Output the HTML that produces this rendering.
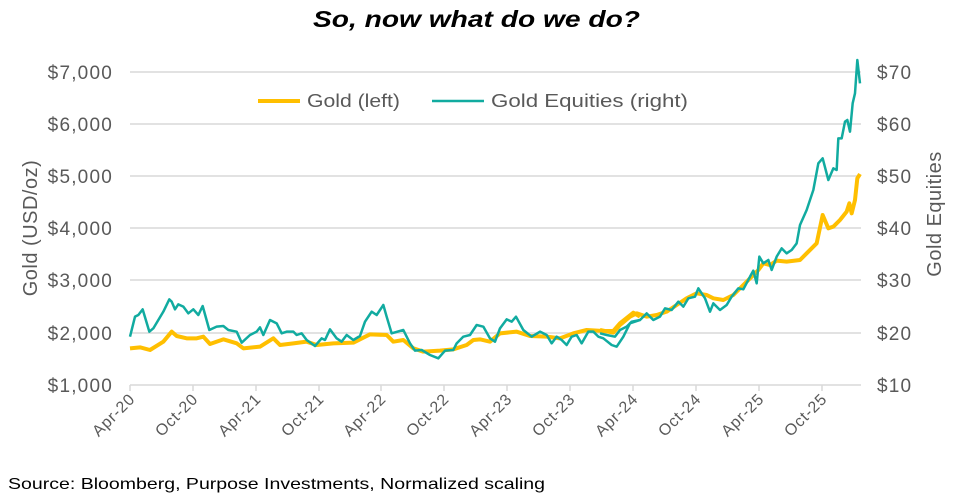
<!DOCTYPE html>
<html><head><meta charset="utf-8"><style>
body{margin:0;background:#fff;}
svg{display:block;font-family:"Liberation Sans",sans-serif;}
</style></head><body>
<svg width="953" height="500" viewBox="0 0 953 500">
<text x="313" y="27" textLength="327" lengthAdjust="spacingAndGlyphs" font-size="23" font-weight="bold" font-style="italic" fill="#000">So, now what do we do?</text>
<g stroke="#d9d9d9" stroke-width="1.5">
<line x1="130" x2="861" y1="72" y2="72"/><line x1="130" x2="861" y1="124" y2="124"/>
<line x1="130" x2="861" y1="176" y2="176"/><line x1="130" x2="861" y1="228" y2="228"/>
<line x1="130" x2="861" y1="280" y2="280"/><line x1="130" x2="861" y1="333" y2="333"/>
<line x1="130" x2="861" y1="385" y2="385"/>
<line x1="130" x2="130" y1="385" y2="391"/><line x1="193" x2="193" y1="385" y2="391"/>
<line x1="256" x2="256" y1="385" y2="391"/><line x1="319" x2="319" y1="385" y2="391"/>
<line x1="381" x2="381" y1="385" y2="391"/><line x1="444" x2="444" y1="385" y2="391"/>
<line x1="507" x2="507" y1="385" y2="391"/><line x1="570" x2="570" y1="385" y2="391"/>
<line x1="633" x2="633" y1="385" y2="391"/><line x1="696" x2="696" y1="385" y2="391"/>
<line x1="759" x2="759" y1="385" y2="391"/><line x1="822" x2="822" y1="385" y2="391"/>
</g>
<g font-size="19" letter-spacing="1.2" fill="#595959" text-anchor="end">
<text x="113" y="79">$7,000</text><text x="113" y="131">$6,000</text><text x="113" y="183">$5,000</text>
<text x="113" y="235">$4,000</text><text x="113" y="287">$3,000</text><text x="113" y="340">$2,000</text><text x="113" y="392">$1,000</text>
</g>
<g font-size="19" letter-spacing="1.2" fill="#595959">
<text x="877" y="79">$70</text><text x="877" y="131">$60</text><text x="877" y="183">$50</text>
<text x="877" y="235">$40</text><text x="877" y="287">$30</text><text x="877" y="340">$20</text><text x="877" y="392">$10</text>
</g>
<text transform="translate(37,228) rotate(-90)" text-anchor="middle" font-size="20" letter-spacing="0.5" fill="#595959">Gold (USD/oz)</text>
<text transform="translate(941,214) rotate(-90)" text-anchor="middle" font-size="20" letter-spacing="0.5" fill="#595959">Gold Equities</text>
<g font-size="16" letter-spacing="0.8" fill="#595959" text-anchor="end">
<text transform="translate(136,400) rotate(-45)">Apr-20</text><text transform="translate(199,400) rotate(-45)">Oct-20</text>
<text transform="translate(262,400) rotate(-45)">Apr-21</text><text transform="translate(325,400) rotate(-45)">Oct-21</text>
<text transform="translate(387,400) rotate(-45)">Apr-22</text><text transform="translate(450,400) rotate(-45)">Oct-22</text>
<text transform="translate(513,400) rotate(-45)">Apr-23</text><text transform="translate(576,400) rotate(-45)">Oct-23</text>
<text transform="translate(639,400) rotate(-45)">Apr-24</text><text transform="translate(702,400) rotate(-45)">Oct-24</text>
<text transform="translate(765,400) rotate(-45)">Apr-25</text><text transform="translate(828,400) rotate(-45)">Oct-25</text>
</g>
<line x1="258" x2="300" y1="101" y2="101" stroke="#ffbf00" stroke-width="4"/>
<text x="307" y="107" textLength="93" lengthAdjust="spacingAndGlyphs" font-size="18" fill="#595959">Gold (left)</text>
<line x1="432" x2="484" y1="101" y2="101" stroke="#11aba0" stroke-width="2.5"/>
<text x="491" y="107" textLength="197" lengthAdjust="spacingAndGlyphs" font-size="18" fill="#595959">Gold Equities (right)</text>
<g fill="none" stroke-linejoin="round">
<g transform="translate(120,270) scale(0.33333)">
<polyline vector-effect="non-scaling-stroke" stroke="#ffbf00" stroke-width="4" points="30,235 60,232 90,240 130,215 155,185 170,198 200,205 230,205 250,200 270,222 310,208 350,220 370,235 420,230 460,205 480,225 520,220 560,215 590,225 640,220 700,218 750,193 800,195 820,215 850,210 880,235 910,245 960,242 1000,238 1040,225 1060,210 1080,208 1110,215 1140,190 1190,185 1230,198 1280,200 1320,205 1360,190 1400,180 1450,183 1480,183 1500,160 1540,128 1560,140"/>
</g>
<g transform="translate(600,50) scale(0.33333)">
<polyline vector-effect="non-scaling-stroke" stroke="#ffbf00" stroke-width="4" points="0,840 40,848 60,825 90,800 110,790 140,800 170,795 200,785 230,765 260,745 290,730 320,735 340,745 370,750 400,735 430,705 455,680 475,660 490,640 510,645 530,632 560,635 600,630 620,610 650,580 668,495 685,535 700,530 720,510 740,485 748,460 755,490 765,450 772,385 780,372"/>
</g>
<g transform="translate(120,270) scale(0.33333)">
<polyline vector-effect="non-scaling-stroke" stroke="#11aba0" stroke-width="2.5" points="30,200 45,140 55,135 68,118 88,185 100,175 130,125 148,88 155,95 165,118 175,103 190,110 205,130 220,118 235,135 248,108 268,180 290,170 310,168 325,180 350,185 365,218 390,195 410,185 420,172 430,195 450,150 470,160 485,190 500,185 520,185 530,195 545,190 560,210 585,228 605,205 615,210 630,178 650,205 665,215 680,195 700,210 720,198 735,155 755,125 770,135 790,105 800,140 815,190 850,180 870,220 885,242 905,240 930,255 955,265 975,242 1000,240 1010,220 1030,200 1050,195 1070,165 1090,170 1110,205 1125,215 1140,175 1160,148 1175,155 1188,140 1210,180 1235,200 1260,185 1280,195 1295,220 1310,200 1325,210 1340,225 1355,200 1370,195 1385,220 1405,185 1420,185 1435,200 1450,205 1475,225 1490,230 1510,200 1530,160 1560,150"/>
</g>
<g transform="translate(600,50) scale(0.33333)">
<polyline vector-effect="non-scaling-stroke" stroke="#11aba0" stroke-width="2.5" points="0,850 20,855 45,860 60,840 80,830 95,815 120,810 140,790 160,810 180,800 195,775 215,780 235,755 250,770 265,745 285,740 295,715 315,745 330,785 340,760 360,780 380,765 395,740 415,715 430,718 450,680 460,662 470,700 478,620 490,640 505,630 515,660 530,620 545,595 560,610 575,600 590,580 600,525 620,480 640,420 655,340 668,325 685,390 700,355 710,360 715,265 725,265 735,215 742,210 750,245 758,160 765,130 772,30 780,100"/>
</g>
</g>
<text x="8" y="489" textLength="537" lengthAdjust="spacingAndGlyphs" font-size="16" fill="#000">Source: Bloomberg, Purpose Investments, Normalized scaling</text>
</svg>
</body></html>
